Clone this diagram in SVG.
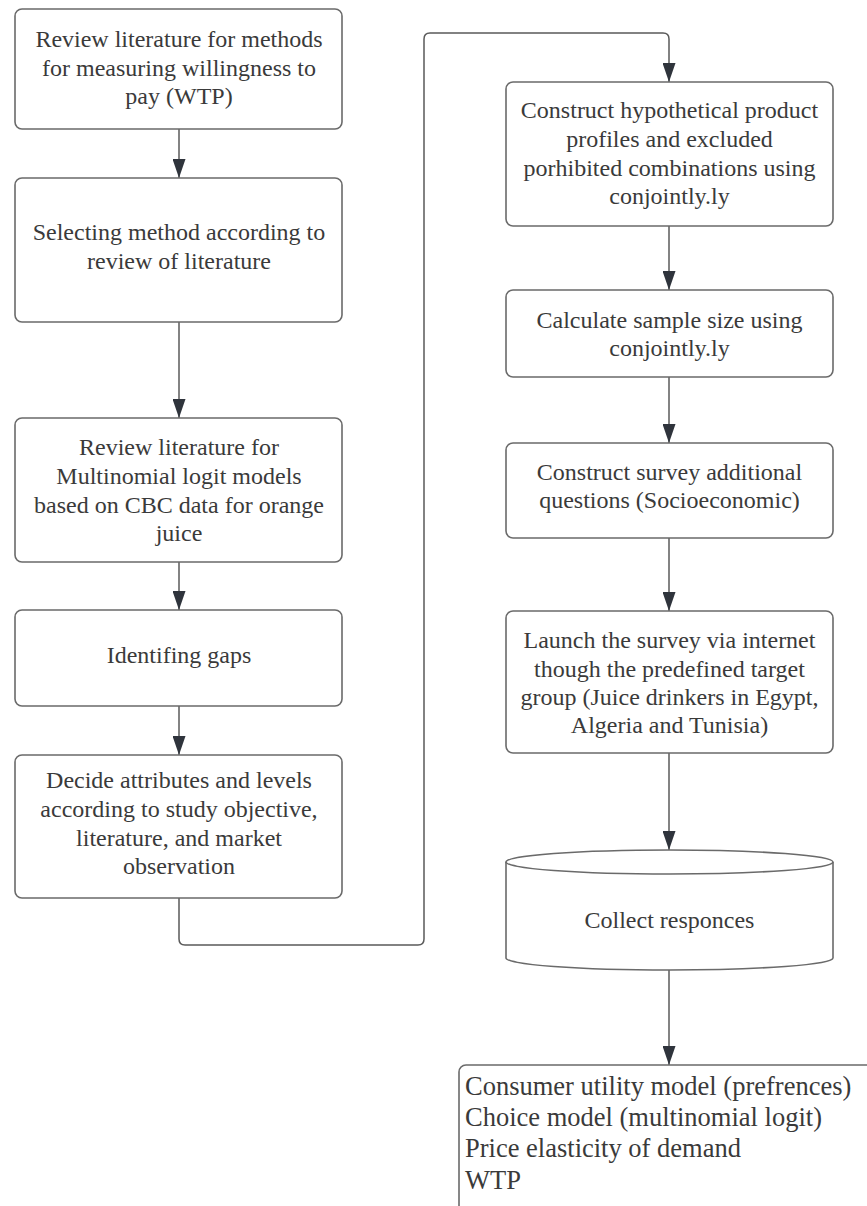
<svg xmlns="http://www.w3.org/2000/svg" width="867" height="1206" viewBox="0 0 867 1206">
<style>
.box{fill:#fff;stroke:#6a6a6a;stroke-width:1.6}
.t{font-family:"Liberation Serif","Times New Roman",serif;font-size:24px;fill:#3a3a3a;text-anchor:middle}
.tl{font-family:"Liberation Serif","Times New Roman",serif;font-size:26.5px;fill:#3a3a3a}
.c{fill:none;stroke:#5a5a5a;stroke-width:1.5}
</style>
<defs>
<marker id="ah" markerUnits="userSpaceOnUse" markerWidth="20" markerHeight="13" refX="19" refY="6.5" orient="auto" viewBox="0 0 20 13">
<path d="M0,0 L19,6.5 L0,13 z" fill="#2f343c"/>
</marker>
</defs>
<rect width="867" height="1206" fill="#fff"/>
<g id="connectors">
<path class="c" marker-end="url(#ah)" d="M179,129 V178"/>
<path class="c" marker-end="url(#ah)" d="M179,322 V418"/>
<path class="c" marker-end="url(#ah)" d="M179,562 V610"/>
<path class="c" marker-end="url(#ah)" d="M179,706 V755"/>
<path class="c" marker-end="url(#ah)" d="M179,898 V939 Q179,945 185,945 H418 Q424,945 424,939 V39 Q424,33 430,33 H663 Q669,33 669,39 V82"/>
<path class="c" marker-end="url(#ah)" d="M669,226 V290"/>
<path class="c" marker-end="url(#ah)" d="M669,377 V443"/>
<path class="c" marker-end="url(#ah)" d="M669,538 V611"/>
<path class="c" marker-end="url(#ah)" d="M669,753 V850"/>
<path class="c" marker-end="url(#ah)" d="M669,970 V1065"/>
</g>
<g id="n1">
<rect class="box" x="15" y="9" width="327" height="120" rx="7"/>
<text class="t" x="179" y="47">Review literature for methods</text>
<text class="t" x="179" y="75.5">for measuring willingness to</text>
<text class="t" x="179" y="104">pay (WTP)</text>
</g>
<g id="n2">
<rect class="box" x="15" y="178" width="327" height="144" rx="7"/>
<text class="t" x="179" y="240">Selecting method according to</text>
<text class="t" x="179" y="268.5">review of literature</text>
</g>
<g id="n3">
<rect class="box" x="15" y="418" width="327" height="144" rx="7"/>
<text class="t" x="179" y="455">Review literature for</text>
<text class="t" x="179" y="484">Multinomial logit models</text>
<text class="t" x="179" y="513">based on CBC data for orange</text>
<text class="t" x="179" y="541">juice</text>
</g>
<g id="n4">
<rect class="box" x="15" y="610" width="327" height="96" rx="7"/>
<text class="t" x="179" y="663">Identifing gaps</text>
</g>
<g id="n5">
<rect class="box" x="15" y="755" width="327" height="143" rx="7"/>
<text class="t" x="179" y="788">Decide attributes and levels</text>
<text class="t" x="179" y="817">according to study objective,</text>
<text class="t" x="179" y="846">literature, and market</text>
<text class="t" x="179" y="874">observation</text>
</g>
<g id="n6">
<rect class="box" x="506" y="82" width="327" height="144" rx="7"/>
<text class="t" x="669.5" y="118">Construct hypothetical product</text>
<text class="t" x="669.5" y="147">profiles and excluded</text>
<text class="t" x="669.5" y="176">porhibited combinations using</text>
<text class="t" x="669.5" y="204">conjointly.ly</text>
</g>
<g id="n7">
<rect class="box" x="506" y="290" width="327" height="87" rx="7"/>
<text class="t" x="669.5" y="328">Calculate sample size using</text>
<text class="t" x="669.5" y="356">conjointly.ly</text>
</g>
<g id="n8">
<rect class="box" x="506" y="443" width="327" height="95" rx="7"/>
<text class="t" x="669.5" y="480">Construct survey additional</text>
<text class="t" x="669.5" y="508">questions (Socioeconomic)</text>
</g>
<g id="n9">
<rect class="box" x="506" y="611" width="327" height="142" rx="7"/>
<text class="t" x="669.5" y="648">Launch the survey via internet</text>
<text class="t" x="669.5" y="677">though the predefined target</text>
<text class="t" x="669.5" y="705">group (Juice drinkers in Egypt,</text>
<text class="t" x="669.5" y="733">Algeria and Tunisia)</text>
</g>
<g id="n10">
<path class="box" d="M506,862 V958 A163.5,12 0 0 0 833,958 V862"/>
<ellipse class="box" cx="669.5" cy="862" rx="163.5" ry="12"/>
<text class="t" x="669.5" y="928">Collect responces</text>
</g>
<g id="n11">
<rect class="box" x="459" y="1065" width="430" height="200" rx="7"/>
<text class="tl" x="465" y="1095">Consumer utility model (prefrences)</text>
<text class="tl" x="465" y="1126">Choice model (multinomial logit)</text>
<text class="tl" x="465" y="1157">Price elasticity of demand</text>
<text class="tl" x="465" y="1189">WTP</text>
</g>
</svg>
